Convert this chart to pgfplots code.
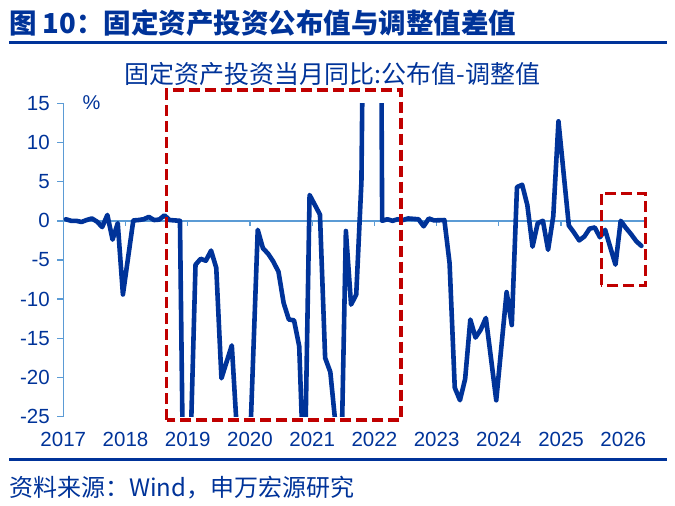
\documentclass[border=0pt]{standalone}
\usepackage{fontspec}
\setmainfont{Liberation Sans}
\newfontfamily\cjk{Noto Sans CJK SC}
\usepackage{pgfplots}
\pgfplotsset{compat=1.18}
\definecolor{sw}{RGB}{0,51,153}
\definecolor{axblue}{RGB}{91,155,213}
\definecolor{boxred}{RGB}{192,0,0}
\pgfplotstableread{
x y
0.5 0.2
1.5 0.0
2.5 0.0
3.5 -0.15
4.5 0.1
5.5 0.3
6.5 -0.1
7.5 -0.8
8.5 0.75
9.5 -2.4
10.5 -0.3
11.5 -9.4
13.5 0.05
14.5 0.1
15.5 0.2
16.5 0.5
17.5 0.1
18.5 0.15
19.5 0.7
20.5 0.1
21.5 0.05
22.5 0.0
23.5 -54
25.5 -5.6
26.5 -4.85
27.5 -5.1
28.5 -3.8
29.5 -6.0
30.5 -20.1
31.5 -18.0
32.5 -15.9
33.5 -27
34.5 -40
35.5 -38
37.5 -1.15
38.5 -3.5
39.5 -4.2
40.5 -5.2
41.5 -6.5
42.5 -10.5
43.5 -12.6
44.5 -12.7
45.5 -16.0
46.5 -35
47.5 3.3
49.5 0.8
50.5 -17.5
51.5 -19.3
52.5 -26
53.5 -35
54.5 -1.3
55.5 -10.7
56.5 -9.4
57.5 5.0
58.5 70
59.5 250
61.5 0.0
62.5 0.2
63.5 0.0
64.5 0.2
65.5 0.1
66.5 0.3
67.5 0.25
68.5 0.2
69.5 -0.7
70.5 0.3
71.5 0.05
73.5 0.1
74.5 -5.4
75.5 -21.3
76.5 -22.9
77.5 -20.2
78.5 -12.6
79.5 -14.9
80.5 -13.9
81.5 -12.4
82.5 -17.6
83.5 -22.9
85.5 -9.1
86.5 -13.3
87.5 4.3
88.5 4.6
89.5 2.0
90.5 -3.3
91.5 -0.3
92.5 0.0
93.5 -3.7
94.5 0.6
95.5 12.7
97.5 -0.6
98.5 -1.5
99.5 -2.5
100.5 -2.0
101.5 -1.0
102.5 -0.85
103.5 -2.1
104.5 -1.15
105.5 -3.4
106.5 -5.6
107.5 0.0
108.5 -0.9
109.5 -1.7
110.5 -2.6
111.5 -3.2
}\fai
\begin{document}
\begin{tikzpicture}[x=1bp,y=1bp]
\path[use as bounding box] (0,0) rectangle (675,506);
\node[anchor=west, text=sw, font=\cjk\bfseries\fontsize{27.5bp}{30bp}\selectfont, inner sep=0] at (9,482.5) {图 10：固定资产投资公布值与调整值差值};
\draw[sw, line width=3bp] (9,463.3) -- (667,463.3);
\node[text=sw, font=\cjk\fontsize{25bp}{28bp}\selectfont, inner sep=0] at (332.5,432) {固定资产投资当月同比:公布值-调整值};
\begin{axis}[at={(63.3bp,89.3bp)}, anchor=south west, scale only axis,
  width=580.7bp, height=313.4bp,
  xmin=0, xmax=112, ymin=-25, ymax=15,
  axis y line*=left, axis x line*=bottom,
  x axis line style={draw=none},
  y axis line style={draw=axblue, line width=1.5bp},
  ytick={-25,-20,...,15},
  xtick={0,12,24,36,48,60,72,84,96,108},
  xticklabels={2017,2018,2019,2020,2021,2022,2023,2024,2025,2026},
  major tick length=6bp,
  tick align=outside,
  ytick style={draw=axblue, line width=1.5bp},
  xtick style={draw=none},
  tick label style={font=\fontsize{20.5bp}{22bp}\selectfont, text=sw},
  yticklabel style={xshift=-4bp},
  xticklabel style={yshift=-6bp},
  /pgf/number format/assume math mode=true,
]
\draw[axblue, line width=1.5bp] (axis cs:0,0) -- (axis cs:112,0);
\pgfplotsinvokeforeach{12,24,36,48,60,72,84,96,108}{\draw[axblue, line width=1.3bp] (axis cs:#1,0) -- (axis cs:#1,-0.65);}
\addplot[sw, line width=4.6bp, line join=round, line cap=round] table[x=x,y=y] {\fai};
\end{axis}
\node[text=sw, font=\fontsize{20bp}{22bp}\selectfont, inner sep=0] at (91.5,403) {\%};
\draw[boxred, line width=3.5bp, dash pattern=on 11bp off 5bp] (166.7,86) rectangle (401,416);
\draw[boxred, line width=3.5bp, dash pattern=on 11bp off 5bp] (601.3,220.6) rectangle (645.7,312.7);
\draw[sw, line width=3bp] (9,46) -- (667,46);
\node[anchor=west, text=sw, font=\cjk\fontsize{24bp}{26bp}\selectfont, inner sep=0] at (9,18.5) {资料来源：Wind，申万宏源研究};
\end{tikzpicture}
\end{document}
